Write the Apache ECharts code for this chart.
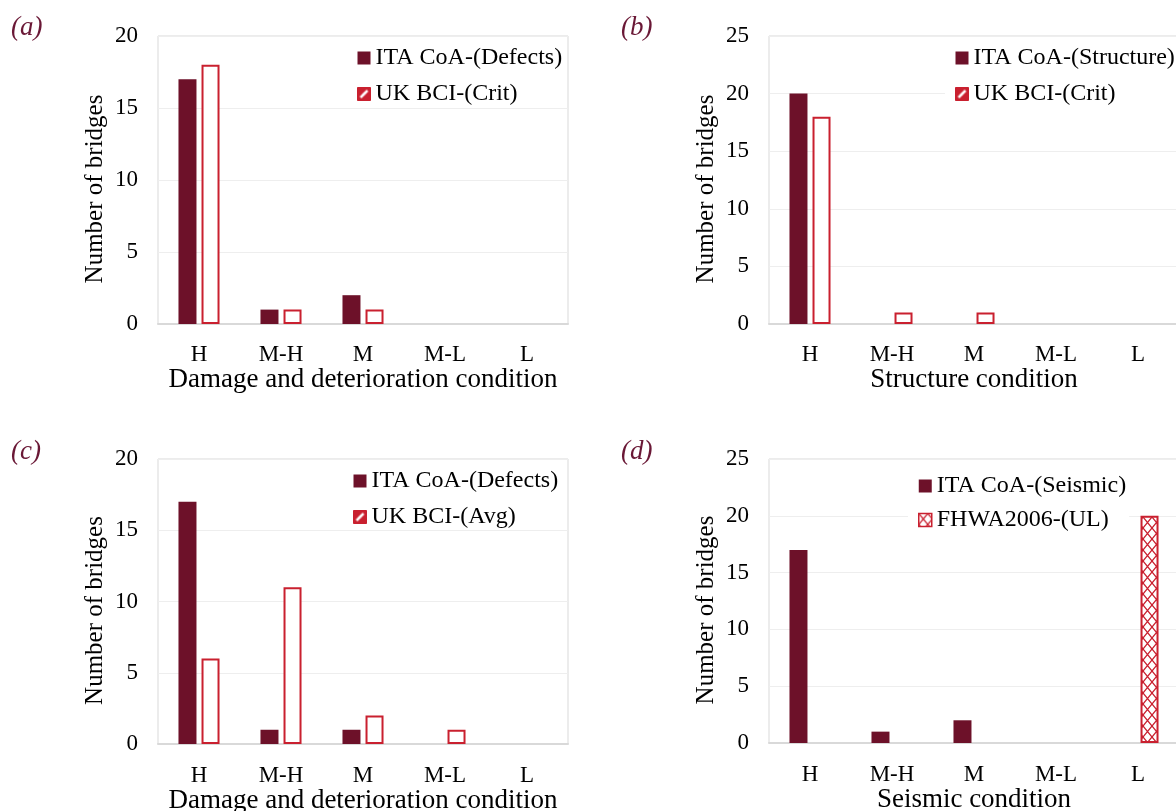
<!DOCTYPE html>
<html>
<head>
<meta charset="utf-8">
<script src="https://cdn.jsdelivr.net/npm/echarts@6/dist/echarts.min.js"></script>
<style>
  * { margin: 0; padding: 0; }
  #main { width: 1176px; height: 811px; background: #fff; }
</style>
</head>
<body>
<div id="main"></div>
<script>
  // data
  var categories = ['H', 'M-H', 'M', 'M-L', 'L'];

  var itaDefectsA = [17, 1, 2, 0, 0];
  var ukCritA = [18, 1, 1, 0, 0];

  var itaStructureB = [20, 0, 0, 0, 0];
  var ukCritB = [18, 1, 1, 0, 0];

  var itaDefectsC = [17, 1, 1, 0, 0];
  var ukAvgC = [6, 11, 2, 1, 0];

  var itaSeismicD = [17, 1, 2, 0, 0];
  var fhwaD = [0, 0, 0, 0, 20];

  var yMaxLeft = 20;
  var yMaxRight = 25;

  var DARK = '#6d1129';
  var RED = '#c9202f';
  var FONT = '"Liberation Serif", "Times New Roman", serif';

  // legend swatch: red with white slash
  function slashPattern() {
    var c = document.createElement('canvas');
    c.width = 13; c.height = 13;
    var g = c.getContext('2d');
    g.fillStyle = RED;
    g.fillRect(0, 0, 13, 13);
    g.strokeStyle = '#fff';
    g.lineWidth = 2.5;
    g.beginPath();
    g.moveTo(3, 10); g.lineTo(10, 3);
    g.stroke();
    return { image: c, repeat: 'repeat' };
  }
  // crosshatch for FHWA
  function crossPattern() {
    var c = document.createElement('canvas');
    c.width = 9; c.height = 11;
    var g = c.getContext('2d');
    g.fillStyle = '#fff';
    g.fillRect(0, 0, 9, 11);
    g.strokeStyle = RED;
    g.lineWidth = 1.3;
    g.beginPath();
    g.moveTo(0, 0); g.lineTo(9, 11);
    g.moveTo(9, 0); g.lineTo(0, 11);
    g.stroke();
    return { image: c, repeat: 'repeat' };
  }

  function nz(arr) {
    return arr.map(function (v) { return v === 0 ? '-' : v; });
  }

  var grids = [
    { left: 158, top: 36, width: 410, height: 288 },
    { left: 769, top: 36, width: 410, height: 288 },
    { left: 158, top: 459, width: 410, height: 285 },
    { left: 769, top: 459, width: 410, height: 284 }
  ];
  var xNames = [
    'Damage and deterioration condition',
    'Structure condition',
    'Damage and deterioration condition',
    'Seismic condition'
  ];
  var yMaxes = [yMaxLeft, yMaxRight, yMaxLeft, yMaxRight];

  var chart = echarts.init(document.getElementById('main'));

  var xAxes = [], yAxes = [];
  for (var i = 0; i < 4; i++) {
    xAxes.push({
      type: 'category', gridIndex: i, data: categories,
      name: xNames[i], nameLocation: 'middle', nameGap: i < 2 ? 33 : 37,
      nameTextStyle: { fontFamily: FONT, fontSize: 27, color: '#000' },
      axisTick: { show: false },
      axisLine: { lineStyle: { color: '#d9d9d9', width: 2 } },
      axisLabel: { fontFamily: FONT, fontSize: 23, color: '#000', margin: i < 2 ? 19 : 20 }
    });
    yAxes.push({
      type: 'value', gridIndex: i, min: 0, max: yMaxes[i], interval: 5,
      name: 'Number of bridges', nameLocation: 'middle', nameGap: 50,
      nameTextStyle: { fontFamily: FONT, fontSize: 25, color: '#000', padding: [0, 18, 0, 0] },
      axisLine: { show: false },
      axisTick: { show: false },
      axisLabel: { fontFamily: FONT, fontSize: 23, color: '#000', margin: 20 },
      splitLine: { lineStyle: { color: '#eeeeee', width: 1 } }
    });
  }

  function darkSeries(name, data, idx) {
    return {
      name: name, type: 'bar', xAxisIndex: idx, yAxisIndex: idx,
      data: nz(data), barWidth: 18, barGap: '28%',
      itemStyle: { color: DARK }
    };
  }
  function outlineSeries(name, data, idx) {
    return {
      name: name, type: 'bar', xAxisIndex: idx, yAxisIndex: idx,
      data: nz(data), barWidth: 18, barGap: '28%',
      itemStyle: { color: '#fff', borderColor: RED, borderWidth: 2 }
    };
  }

  var fhwa = outlineSeries('FHWA2006-(UL)', fhwaD, 3);
  fhwa.itemStyle = { color: crossPattern(), borderColor: RED, borderWidth: 2 };

  var series = [
    darkSeries('ITA CoA-(Defects)', itaDefectsA, 0),
    outlineSeries('UK BCI-(Crit)', ukCritA, 0),
    darkSeries('ITA CoA-(Structure)', itaStructureB, 1),
    outlineSeries('UK BCI-(Crit)', ukCritB, 1),
    darkSeries('ITA CoA-(Defects)', itaDefectsC, 2),
    outlineSeries('UK BCI-(Avg)', ukAvgC, 2),
    darkSeries('ITA CoA-(Seismic)', itaSeismicD, 3),
    fhwa
  ];

  function legend(left, top, gap, names, second) {
    return {
      left: left, top: top, orient: 'vertical',
      backgroundColor: '#fff', padding: [5, 3, 0, 10],
      itemGap: gap, itemWidth: 13, itemHeight: 13, icon: 'rect',
      selectedMode: false,
      textStyle: { fontFamily: FONT, fontSize: 24, color: '#000' },
      data: [
        { name: names[0], itemStyle: { color: DARK } },
        { name: names[1], itemStyle: second }
      ]
    };
  }
  var slash = { color: slashPattern(), borderColor: RED, borderWidth: 1 };
  var cross = { color: crossPattern(), borderColor: RED, borderWidth: 1.5 };

  function panelLabel(text, left, top) {
    return {
      text: text, left: left, top: top, padding: 0,
      textStyle: { fontFamily: FONT, fontSize: 27, fontStyle: 'italic', fontWeight: 'normal', color: '#6a1836' }
    };
  }

  chart.setOption({
    animation: false,
    title: [
      panelLabel('(a)', 11, 14),
      panelLabel('(b)', 621, 14),
      panelLabel('(c)', 11, 438),
      panelLabel('(d)', 621, 438)
    ],
    grid: grids.map(function (g) {
      return Object.assign({
        show: true, borderColor: '#d9d9d9', borderWidth: 1,
        backgroundColor: 'transparent', outerBoundsMode: 'none', containLabel: false
      }, g);
    }),
    legend: [
      legend(347, 41, 12, ['ITA CoA-(Defects)', 'UK BCI-(Crit)'], slash),
      legend(945, 41, 12, ['ITA CoA-(Structure)', 'UK BCI-(Crit)'], slash),
      legend(343, 464, 12, ['ITA CoA-(Defects)', 'UK BCI-(Avg)'], slash),
      legend(908, 469, 10, ['ITA CoA-(Seismic)', 'FHWA2006-(UL)'], cross)
    ],
    xAxis: xAxes,
    yAxis: yAxes,
    series: series
  });
</script>
</body>
</html>
